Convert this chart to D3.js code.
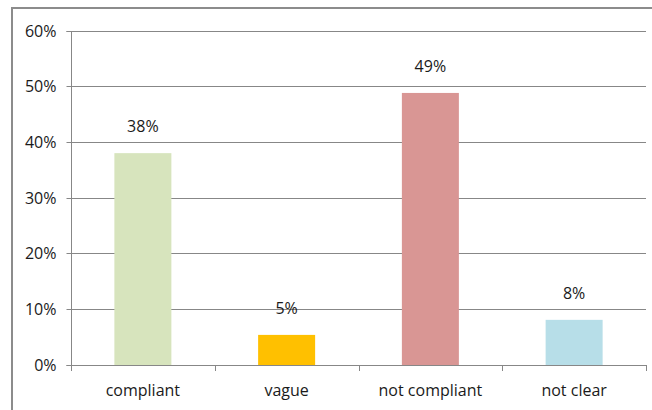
<!DOCTYPE html>
<html>
<head>
<meta charset="utf-8">
<script src="https://cdn.jsdelivr.net/npm/d3@7"></script>
<style>
body { margin: 0; background: #fff; }
text { font-family: "Open Sans", "Noto Sans", sans-serif; fill: #1a1a1a; }
</style>
</head>
<body>
<div id="chart"></div>
<script>
var width = 652;
var height = 410;

var categories = ["compliant", "vague", "not compliant", "not clear"];
var values = [0.38, 0.054, 0.488, 0.081];
var labels = ["38%", "5%", "49%", "8%"];
var colors = ["#d7e4bd", "#ffc000", "#d99694", "#b7dee8"];
var yTicks = [0, 0.1, 0.2, 0.3, 0.4, 0.5, 0.6];

var svg = d3.select("#chart")
    .append("svg")
    .attr("width", width)
    .attr("height", height);

// outer chart frame
svg.append("rect")
    .attr("x", 12)
    .attr("y", 8)
    .attr("width", 660)
    .attr("height", 420)
    .attr("fill", "none")
    .attr("stroke", "#8c8c8c")
    .attr("stroke-width", 2);

var xScale = d3.scaleBand().domain(categories).range([71, 646]).paddingInner(0).paddingOuter(0);
var yScale = d3.scaleLinear().domain([0, 0.6]).range([365, 30.5]);

// gridlines
svg.append("g")
    .selectAll("line")
    .data(yTicks.filter(function(d) { return d > 0; }))
    .enter()
    .append("line")
    .attr("x1", 71)
    .attr("x2", 646)
    .attr("y1", function(d) { return Math.round(yScale(d)) + 0.5; })
    .attr("y2", function(d) { return Math.round(yScale(d)) + 0.5; })
    .attr("stroke", "#878787");

// y axis
var yAxis = d3.axisLeft(yScale)
    .tickValues(yTicks)
    .tickFormat(d3.format(".0%"))
    .tickSize(5)
    .tickPadding(10);

var gy = svg.append("g")
    .attr("transform", "translate(71.5,0)")
    .call(yAxis);
gy.selectAll("path, line").attr("stroke", "#878787");
gy.selectAll("text").style("font-size", "16px").attr("fill", "#1a1a1a");
gy.selectAll(".tick").attr("transform", function(d) {
    return "translate(0," + (Math.round(yScale(d)) + 0.5) + ")";
});
gy.select("path").attr("d", "M-5," + (Math.round(yScale(0.6)) + 0.5) + "H0V" + (Math.round(yScale(0)) + 0.5) + "H-5");

// bars
var barW = 57;
svg.append("g")
    .selectAll("rect")
    .data(categories)
    .enter()
    .append("rect")
    .attr("x", function(d) { return xScale(d) + xScale.bandwidth() / 2 - barW / 2; })
    .attr("y", function(d, i) { return yScale(values[i]); })
    .attr("width", barW)
    .attr("height", function(d, i) { return yScale(0) - yScale(values[i]); })
    .attr("fill", function(d, i) { return colors[i]; });

// x axis
var xAxis = d3.axisBottom(xScale).tickSize(0).tickPadding(19);
var gx = svg.append("g")
    .attr("transform", "translate(0," + (Math.round(yScale(0)) + 0.5) + ")")
    .call(xAxis);
gx.select("path").attr("stroke", "#878787").attr("d", "M71,0H646");
gx.selectAll("text").style("font-size", "16px").attr("fill", "#1a1a1a");

// category separator ticks
svg.append("g")
    .selectAll("line")
    .data(d3.range(categories.length + 1))
    .enter()
    .append("line")
    .attr("x1", function(i) { return Math.round(71 + i * xScale.step()) + 0.5; })
    .attr("x2", function(i) { return Math.round(71 + i * xScale.step()) + 0.5; })
    .attr("y1", Math.round(yScale(0)))
    .attr("y2", Math.round(yScale(0)) + 6)
    .attr("stroke", "#878787");

// value labels
svg.append("g")
    .selectAll("text")
    .data(categories)
    .enter()
    .append("text")
    .attr("x", function(d) { return xScale(d) + xScale.bandwidth() / 2; })
    .attr("y", function(d, i) { return yScale(values[i]) - 21; })
    .attr("text-anchor", "middle")
    .style("font-size", "16px")
    .text(function(d, i) { return labels[i]; });
</script>
</body>
</html>
